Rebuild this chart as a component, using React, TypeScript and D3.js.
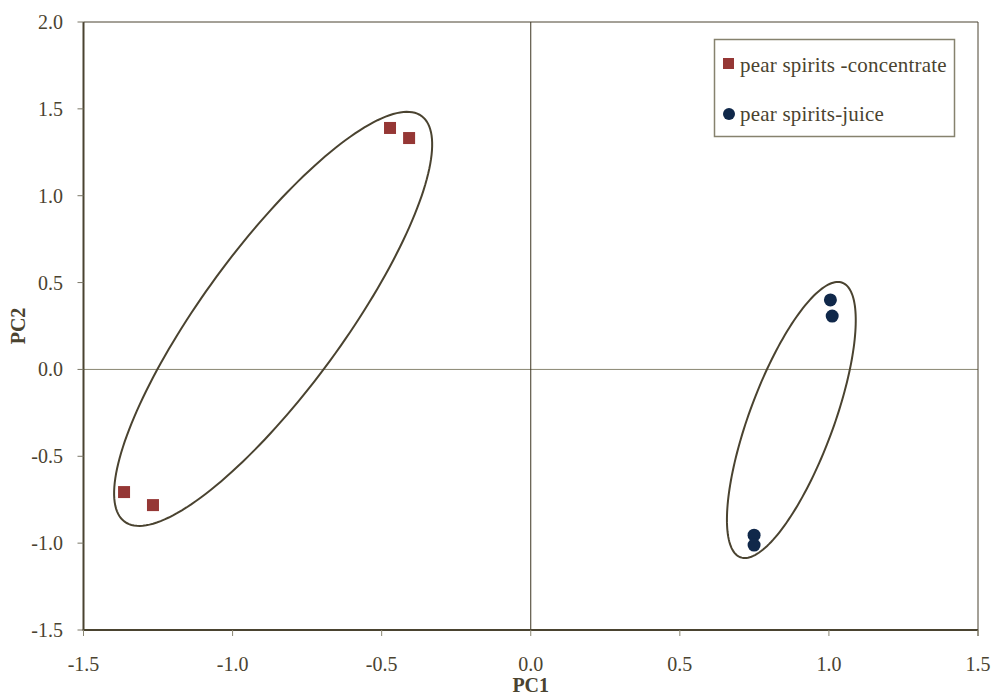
import React from 'react'
import { scaleLinear, line, range, curveLinearClosed } from 'd3'

// PCA scores
const concentrate = [
  { pc1: -0.472, pc2: 1.39 },
  { pc1: -0.408, pc2: 1.332 },
  { pc1: -1.364, pc2: -0.706 },
  { pc1: -1.267, pc2: -0.781 },
]
const juice = [
  { pc1: 1.005, pc2: 0.4 },
  { pc1: 1.011, pc2: 0.307 },
  { pc1: 0.749, pc2: -0.954 },
  { pc1: 0.749, pc2: -1.011 },
]

// ellipses in data units: centre + two conjugate half-axis vectors
const ellipses = [
  { cx: -0.864, cy: 0.291, ux: 0.498, uy: 1.1675, vx: -0.191, vy: 0.24 },
  { cx: 0.874, cy: -0.291, ux: 0.171, uy: 0.79, vx: -0.132, vy: 0.0845 },
]

const xTicks = [-1.5, -1.0, -0.5, 0.0, 0.5, 1.0, 1.5]
const yTicks = [-1.5, -1.0, -0.5, 0.0, 0.5, 1.0, 1.5, 2.0]
const legendLabels = ['pear spirits -concentrate', 'pear spirits-juice']

const ink = '#4a4330'
const font = 'Liberation Serif, DejaVu Serif, serif'

const App = () => {
  const width = 993
  const height = 695
  const left = 83.5, right = 978, top = 22, bottom = 630

  const x = scaleLinear().domain([-1.5, 1.5]).range([left, right])
  const y = scaleLinear().domain([-1.5, 2.0]).range([bottom, top])

  const ellipsePath = (e) => {
    const pts = range(0, 360, 2).map(d => {
      const t = (d * Math.PI) / 180
      return [
        x(e.cx + e.ux * Math.cos(t) + e.vx * Math.sin(t)),
        y(e.cy + e.uy * Math.cos(t) + e.vy * Math.sin(t)),
      ]
    })
    return line().curve(curveLinearClosed)(pts)
  }

  const txt = { fontFamily: font, fill: ink }

  return (
    <svg width={width} height={height} style={{ position: 'absolute', left: 0, top: 0, background: 'white' }}>
      {/* zero lines */}
      <line x1={left} x2={right} y1={y(0)} y2={y(0)} stroke="#8a8672" strokeWidth={1} />
      <line x1={x(0)} x2={x(0)} y1={top} y2={bottom} stroke="#3d3520" strokeWidth={1} />

      {/* frame */}
      <line x1={left} x2={right} y1={top} y2={top} stroke={ink} strokeWidth={1} />
      <line x1={right} x2={right} y1={top} y2={bottom + 6} stroke={ink} strokeWidth={1} />
      <line x1={left} x2={left} y1={top} y2={bottom} stroke={ink} strokeWidth={2} />
      <line x1={left - 1} x2={right} y1={bottom} y2={bottom} stroke={ink} strokeWidth={2} />

      {/* y axis */}
      {yTicks.map(t => (
        <g key={'y' + t}>
          <line x1={left - 6} x2={left} y1={y(t)} y2={y(t)} stroke="#7a7666" />
          <text x={63} y={y(t)} dy="0.35em" textAnchor="end" fontSize={20} style={txt}>
            {t.toFixed(1)}
          </text>
        </g>
      ))}

      {/* x axis */}
      {xTicks.map(t => (
        <g key={'x' + t}>
          <line x1={x(t)} x2={x(t)} y1={bottom} y2={bottom + 6} stroke="#8a8672" />
          <text x={x(t)} y={671} textAnchor="middle" fontSize={20} style={txt}>
            {t.toFixed(1)}
          </text>
        </g>
      ))}

      <text x={x(0)} y={692} textAnchor="middle" fontSize={20} fontWeight="bold" style={txt}>PC1</text>
      <text transform={`translate(25,${(top + bottom) / 2}) rotate(-90)`} textAnchor="middle"
        fontSize={20} fontWeight="bold" style={txt}>PC2</text>

      {/* ellipses */}
      {ellipses.map((e, i) => (
        <path key={'e' + i} d={ellipsePath(e)} fill="none" stroke={ink} strokeWidth={2} />
      ))}

      {/* points */}
      {concentrate.map((d, i) => (
        <rect key={'c' + i} x={x(d.pc1) - 6} y={y(d.pc2) - 6} width={12} height={12} fill="#953735" />
      ))}
      {juice.map((d, i) => (
        <circle key={'j' + i} cx={x(d.pc1)} cy={y(d.pc2)} r={6.5} fill="#10284a" />
      ))}

      {/* legend */}
      <rect x={714.5} y={39.5} width={240} height={97} fill="white" stroke="#86826e" strokeWidth={1.5} />
      <rect x={723} y={58} width={11} height={11} fill="#953735" />
      <text x={740} y={72} fontSize={21} letterSpacing={0.2} style={txt}>{legendLabels[0]}</text>
      <circle cx={729} cy={114} r={6} fill="#10284a" />
      <text x={740} y={121} fontSize={21} letterSpacing={0.2} style={txt}>{legendLabels[1]}</text>
    </svg>
  )
}

export default App
